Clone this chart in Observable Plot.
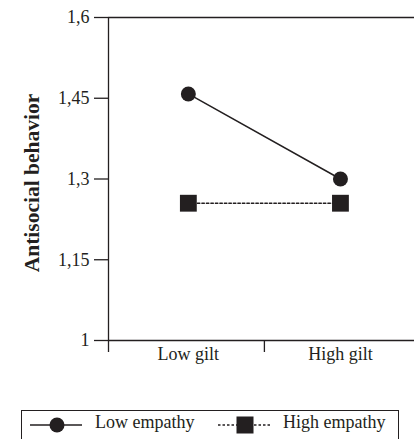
<!DOCTYPE html>
<html>
<head>
<meta charset="utf-8">
<script src="https://cdn.jsdelivr.net/npm/d3@7"></script>
<script src="https://cdn.jsdelivr.net/npm/@observablehq/plot@0.6"></script>
<style>
  html, body { margin: 0; padding: 0; background: #fff; }
  body { width: 414px; height: 439px; position: relative; overflow: hidden; font-family: "Liberation Serif", "DejaVu Serif", serif; color: #231f20; }
  #chart svg { display: block; }
  #legend { position: absolute; left: 21px; top: 410px; width: 376px; height: 40px; border: 1.3px solid #231f20; box-sizing: content-box; }
  #legend svg { position: absolute; left: 0; top: 0; display: block; }
</style>
</head>
<body>
<div id="chart"></div>
<div id="legend"></div>
<script>
const categories = ["Low gilt", "High gilt"];
const seriesNames = ["Low empathy", "High empathy"];
const lowEmpathy = [1.458, 1.30];
const highEmpathy = [1.255, 1.255];
const yTicks = [1, 1.15, 1.3, 1.45, 1.6];

const ink = "#231f20";
const X0 = -0.525, X1 = 1.5;

const lowData = categories.map((c, i) => ({i, c, v: lowEmpathy[i], s: seriesNames[0]}));
const highData = categories.map((c, i) => ({i, c, v: highEmpathy[i], s: seriesNames[1]}));

const chart = Plot.plot({
  width: 414,
  height: 380,
  marginLeft: 108,
  marginRight: 0,
  marginTop: 17,
  marginBottom: 40,
  style: {fontFamily: "'Liberation Serif', serif", fontSize: "18px", color: ink, background: "white"},
  x: {type: "linear", domain: [X0, X1], range: [108, 416]},
  y: {domain: [1, 1.6]},
  marks: [
    Plot.ruleY([1, 1.6], {x1: X0, x2: X1, stroke: ink, strokeWidth: 1.3}),
    Plot.ruleX([X0], {y1: 1, y2: 1.6, stroke: ink, strokeWidth: 1.3}),
    Plot.axisY({ticks: yTicks, tickSize: 14, tickPadding: 5, strokeWidth: 1.3,
      tickFormat: d => String(d).replace(".", ","), label: null}),
    Plot.axisX({ticks: [X0, 0.5], tickSize: 12, strokeWidth: 1.3, tickFormat: () => "", label: null}),
    Plot.axisX({ticks: [0, 1], tickSize: 0, tickPadding: 7, tickFormat: i => categories[i], label: null}),
    Plot.line(lowData, {x: "i", y: "v", stroke: ink, strokeWidth: 1.5}),
    Plot.line(highData, {x: "i", y: "v", stroke: ink, strokeWidth: 1.4, strokeDasharray: "2.5,2"}),
    Plot.dot(lowData, {x: "i", y: "v", r: 7.5, fill: ink, stroke: "none", symbol: "circle"}),
    Plot.dot(highData, {x: "i", y: "v", r: 9.5, fill: ink, stroke: "none", symbol: "square"}),
    Plot.text(["Antisocial behavior"], {text: d => d, frameAnchor: "left", textAnchor: "middle", dx: -76, dy: 4, rotate: -90,
      fontWeight: "bold", fontSize: 21.5, fill: ink})
  ]
});
document.getElementById("chart").appendChild(chart);

// Legend
const leg = d3.select("#legend").append("svg").attr("width", 376).attr("height", 40);
leg.append("line").attr("x1", 8).attr("x2", 60).attr("y1", 14).attr("y2", 14).attr("stroke", ink).attr("stroke-width", 1.5);
leg.append("circle").attr("cx", 35).attr("cy", 14).attr("r", 7.5).attr("fill", ink);
leg.append("text").attr("x", 73).attr("y", 17).attr("font-size", 18).attr("fill", ink)
  .attr("font-family", "'Liberation Serif', serif").text(seriesNames[0]);
leg.append("line").attr("x1", 196).attr("x2", 248).attr("y1", 14).attr("y2", 14).attr("stroke", ink)
  .attr("stroke-width", 1.4).attr("stroke-dasharray", "2.5,2");
leg.append("rect").attr("x", 214.5).attr("y", 5.5).attr("width", 17).attr("height", 17).attr("fill", ink);
leg.append("text").attr("x", 261).attr("y", 17).attr("font-size", 18).attr("fill", ink)
  .attr("font-family", "'Liberation Serif', serif").text(seriesNames[1]);
</script>
</body>
</html>
